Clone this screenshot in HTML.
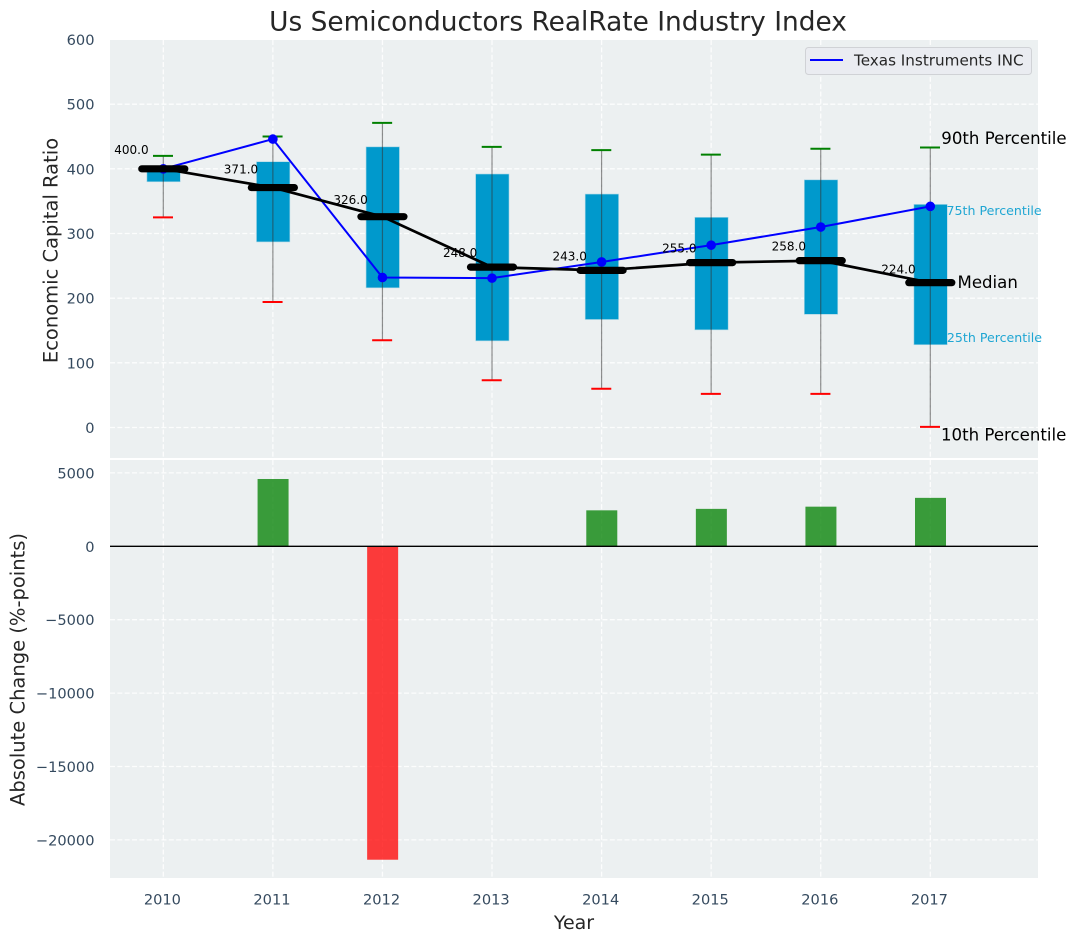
<!DOCTYPE html>
<html lang="en">
<head>
<meta charset="utf-8">
<title>Us Semiconductors RealRate Industry Index</title>
<style>
html,body{margin:0;padding:0;background:#fff;}
svg{display:block;font-family:"DejaVu Sans","Liberation Sans",sans-serif;}
</style>
</head>
<body>
<svg id="chart" xmlns="http://www.w3.org/2000/svg" width="1076" height="942" viewBox="0 0 1076 942"></svg>
<script>
const years = [2010, 2011, 2012, 2013, 2014, 2015, 2016, 2017];
const p90 = [420, 450, 471, 434, 429, 422, 431, 433];
const p75 = [402, 411, 434, 392, 361, 325, 383, 345];
const medians = [400, 371, 326, 248, 243, 255, 258, 224];
const p25 = [380, 287, 216, 134, 167, 151, 175, 128];
const p10 = [325, 194, 135, 73, 60, 52, 52, 1];
const company = [400, 446, 232, 231, 256, 282, 310, 342];
const changes = [0, 4585, -21350, 0, 2450, 2550, 2700, 3300];
const topTicks = [0, 100, 200, 300, 400, 500, 600];
const bottomTicks = [5000, 0, -5000, -10000, -15000, -20000];

const svg = document.getElementById('chart');
const NS = 'http://www.w3.org/2000/svg';
const X_LEFT = 110, X_RIGHT = 1038;
const TOP_Y0 = 40, TOP_Y1 = 458, BOT_Y0 = 460, BOT_Y1 = 878;

function x(v) { return 163.3 + (v - 2010) * (930.3 - 163.3) / 7; }
function yTop(v) { return 427.5 - v * (427.5 - 39.5) / 600; }
function yBot(v) { return 546.3 - v * (546.3 - 472.9) / 5000; }

function make(tag, attrs, parent) {
  const el = document.createElementNS(NS, tag);
  for (const k in attrs) el.setAttribute(k, attrs[k]);
  (parent || svg).appendChild(el);
  return el;
}
function label(str, px, py, size, fill, anchor, parent) {
  const el = make('text', {x: px, y: py, 'font-size': size, fill: fill, 'text-anchor': anchor || 'start', 'dominant-baseline': 'central'}, parent);
  el.textContent = str;
  return el;
}
function tickText(v) { return String(v).replace('-', '\u2212'); }

/* axes backgrounds */
const bgTop = make('rect', {x: X_LEFT, y: TOP_Y0, width: X_RIGHT - X_LEFT, height: TOP_Y1 - TOP_Y0, fill: '#ecf0f1'});


const bgBot = make('rect', {x: X_LEFT, y: BOT_Y0, width: X_RIGHT - X_LEFT, height: BOT_Y1 - BOT_Y0, fill: '#ecf0f1'});



/* grid */
const gridAttrs = {stroke: '#ffffff', 'stroke-width': 1.3, 'stroke-dasharray': '5 2.35', 'stroke-opacity': 0.85};
years.forEach(function (yr) {
  [[TOP_Y0, TOP_Y1], [BOT_Y0, BOT_Y1]].forEach(function (r) {
    const g = make('line', Object.assign({x1: x(yr), x2: x(yr), y1: r[0], y2: r[1]}, gridAttrs));
    
    
  });
});
topTicks.forEach(function (t) {
  if (yTop(t) >= TOP_Y0) {
    const g = make('line', Object.assign({x1: X_LEFT, x2: X_RIGHT, y1: yTop(t), y2: yTop(t)}, gridAttrs));
    
    
  }
  const l = label(tickText(t), 94.5, yTop(t) + 1, 14.6, '#34495e', 'end');
  
  
});
bottomTicks.forEach(function (t) {
  const g = make('line', Object.assign({x1: X_LEFT, x2: X_RIGHT, y1: yBot(t), y2: yBot(t)}, gridAttrs));
  
  
  const l = label(tickText(t), 94.5, yBot(t) + 1, 14.6, '#34495e', 'end');
  
  
});
years.forEach(function (yr) {
  const l = label(String(yr), x(yr) - 0.9, 900, 14.6, '#34495e', 'middle');
  
  
});

/* percentile boxes */
years.forEach(function (yr, i) {
  const b = make('rect', {x: x(yr) - 16.4, y: yTop(p75[i]), width: 33.4, height: yTop(p25[i]) - yTop(p75[i]), fill: '#0099cc', stroke: '#a9d6e5', 'stroke-width': 0.6});
  
  
});

/* whiskers and caps */
years.forEach(function (yr, i) {
  const w = make('line', {x1: x(yr), x2: x(yr), y1: yTop(p90[i]), y2: yTop(p10[i]), stroke: '#333333', 'stroke-opacity': 0.55, 'stroke-width': 1.2});
  
  
  const hi = make('line', {x1: x(yr) - 10.3, x2: x(yr) + 9.7, y1: yTop(p90[i]), y2: yTop(p90[i]), stroke: '#008000', 'stroke-width': 2});
  
  
  const lo = make('line', {x1: x(yr) - 10.3, x2: x(yr) + 9.7, y1: yTop(p10[i]), y2: yTop(p10[i]), stroke: '#ff0000', 'stroke-width': 2});
  
  
});

/* company series */
const companyLine = make('polyline', {points: years.map(function (yr, i) { return x(yr) + ',' + yTop(company[i]); }).join(' '), fill: 'none', stroke: '#0000ff', 'stroke-width': 2});


years.forEach(function (yr, i) {
  const c = make('circle', {cx: x(yr), cy: yTop(company[i]), r: 4.8, fill: '#0000ff'});
  
  
});

/* median series */
const medianLine = make('polyline', {points: years.map(function (yr, i) { return x(yr) + ',' + yTop(medians[i]); }).join(' '), fill: 'none', stroke: '#000000', 'stroke-width': 2.7});


years.forEach(function (yr, i) {
  const m = make('line', {x1: x(yr) - 21.5, x2: x(yr) + 21.5, y1: yTop(medians[i]), y2: yTop(medians[i]), stroke: '#000000', 'stroke-width': 7.2, 'stroke-linecap': 'round'});
  
  
  const t = label(medians[i].toFixed(1), x(yr) - 14.7, yTop(medians[i] * 1.05 + 10) + 0.5, 12, '#000000', 'end');
  
  
});

/* percentile annotations */
const last = years.length - 1;
const a90 = label('90th Percentile', x(years[last]) + 11, yTop(p90[last]) - 9.2, 16.6, '#000000');


const a75 = label('75th Percentile', x(years[last]) + 16.2, yTop(p75[last]) + 6, 12.6, '#1fa6d3');


const aMed = label('Median', x(years[last]) + 27.2, yTop(medians[last]), 16.6, '#000000');


const a25 = label('25th Percentile', x(years[last]) + 16.6, yTop(p25[last]) - 7, 12.6, '#1fa6d3');


const a10 = label('10th Percentile', x(years[last]) + 10.7, yTop(p10[last]) + 8, 16.6, '#000000');



/* change bars */
years.forEach(function (yr, i) {
  if (changes[i] === 0) return;
  const top = Math.min(yBot(0), yBot(changes[i]));
  const h = Math.abs(yBot(changes[i]) - yBot(0));
  const b = make('rect', {x: x(yr) - 15.3, y: top, width: 31, height: h, fill: changes[i] > 0 ? '#008000' : '#ff0000', 'fill-opacity': 0.76});
  
  
});
const zero = make('line', {x1: X_LEFT, x2: X_RIGHT, y1: yBot(0), y2: yBot(0), stroke: '#000000', 'stroke-width': 1.3});



/* legend */
const legendBox = make('rect', {x: 805.5, y: 47.5, width: 226, height: 27, rx: 3, fill: '#eaecf1', stroke: '#d0d2d6', 'stroke-width': 1});


const legendLine = make('line', {x1: 810, x2: 843, y1: 60, y2: 60, stroke: '#0000ff', 'stroke-width': 2});


const legendText = label('Texas Instruments INC', 854, 60.5, 15.2, '#262626');



/* titles */
const title = label('Us Semiconductors RealRate Industry Index', 558, 22, 26.4, '#262626', 'middle');


const xTitle = label('Year', 574, 923, 19, '#262626', 'middle');


const yTitleTop = label('Economic Capital Ratio', 0, 0, 19.5, '#262626', 'middle');
yTitleTop.setAttribute('transform', 'translate(51 250.5) rotate(-90)');


const yTitleBot = label('Absolute Change (%-points)', 0, 0, 19.5, '#262626', 'middle');
yTitleBot.setAttribute('transform', 'translate(18 669.5) rotate(-90)');


</script>
</body>
</html>
